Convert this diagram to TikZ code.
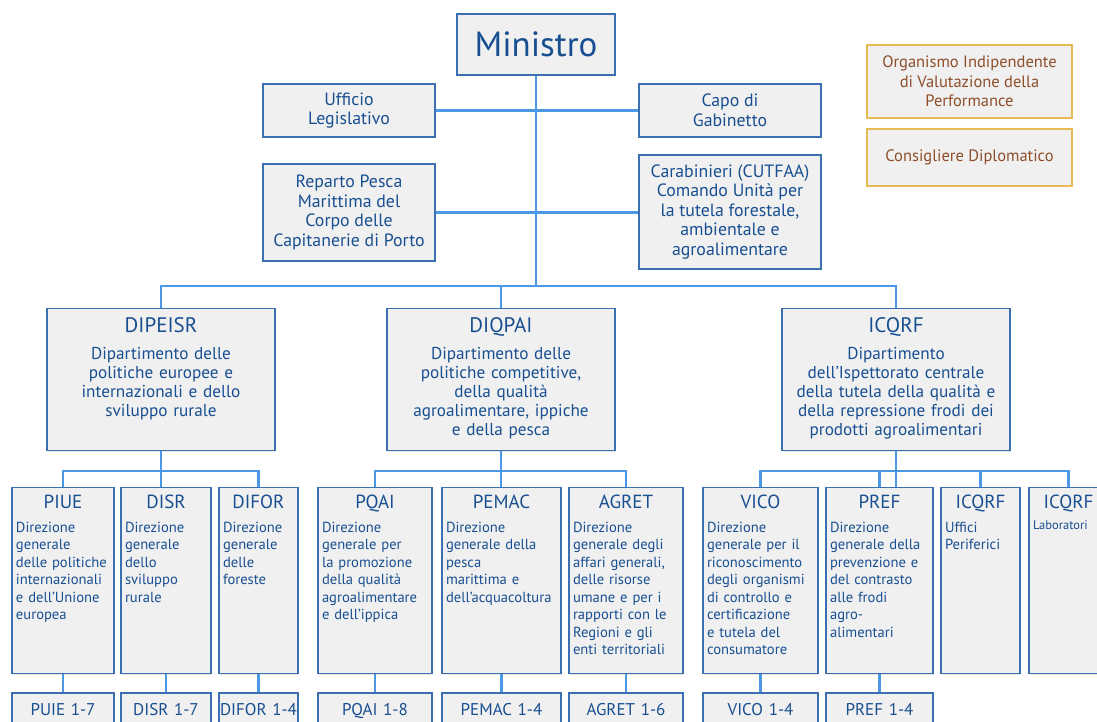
\documentclass[tikz,border=0pt]{standalone}
\usepackage{fontspec}
\setmainfont{PT Sans}
\usetikzlibrary{positioning,shadows}
\definecolor{OrgBlue}{RGB}{24,79,145}
\definecolor{FrameBlue}{RGB}{58,112,178}
\definecolor{LinkBlue}{RGB}{74,152,230}
\definecolor{BoxGray}{RGB}{240,240,240}
\definecolor{StaffGold}{RGB}{232,186,84}
\definecolor{StaffBrown}{RGB}{142,78,42}
\hyphenpenalty=10000
\newcommand{\dgtext}[2]{{\centering\fontsize{19}{23}\selectfont #1\par}\vspace{6pt}{\raggedright #2\par}}
\tikzset{
  orgbox/.style={draw=FrameBlue,fill=BoxGray,line width=1.4pt,text=OrgBlue,
    drop shadow={shadow xshift=1.2pt,shadow yshift=-1.2pt,opacity=0.18}},
  topbox/.style={orgbox,align=center,inner sep=0pt,
    font=\fontsize{17.8}{19.5}\selectfont},
  deptbox/.style={orgbox,anchor=north,text width=222pt,align=center,
    inner xsep=3pt,inner ysep=0pt,text height=24pt,text depth=118pt,
    font=\fontsize{17.2}{19}\selectfont},
  dgbox/.style={orgbox,anchor=north,inner xsep=4pt,inner ysep=0pt,
    text height=21pt,text depth=165pt,font=\fontsize{14.6}{17.5}\selectfont},
  listbox/.style={orgbox,inner xsep=5pt,inner ysep=0pt,align=center,
    text height=22pt,text depth=26pt,font=\fontsize{17}{20}\selectfont},
  staffbox/.style={draw=StaffGold,fill=BoxGray,line width=1.2pt,text=StaffBrown,
    align=center,minimum width=205pt,font=\fontsize{16.5}{19.5}\selectfont},
  link/.style={draw=LinkBlue,line width=2.5pt}
}
\begin{document}
\begin{tikzpicture}[x=1pt,y=-1pt]
\useasboundingbox (0,0) rectangle (1097,722);
\clip (0,0) rectangle (1097,722);
% vertice e uffici di diretta collaborazione
\node[orgbox,minimum width=158pt,minimum height=61pt,
  font=\fontsize{35}{38}\selectfont] (ministro) at (536,44.5) {Ministro};
\node[topbox,minimum width=172pt,minimum height=53pt] (ufficio) at (349,110.5)
  {Ufficio\\Legislativo};
\node[topbox,minimum width=182pt,minimum height=53pt] (capo) at (730,110.5)
  {Capo di\\Gabinetto};
\node[topbox,minimum width=172pt,minimum height=97pt] (reparto) at (349,212.5)
  {Reparto Pesca\\Marittima del\\Corpo delle\\Capitanerie di Porto};
\node[topbox,minimum width=182pt,minimum height=114pt] (carab) at (730,212)
  {Carabinieri (CUTFAA)\\Comando Unità per\\la tutela forestale,\\ambientale e\\agroalimentare};
\node[staffbox,minimum height=73pt] (oiv) at (969.5,81.5)
  {Organismo Indipendente\\di Valutazione della\\Performance};
\node[staffbox,minimum height=57pt] (consigliere) at (969.5,157.5)
  {Consigliere Diplomatico};
% dipartimenti
\node[deptbox] (dipeisr) at (161,308) {{\fontsize{21}{24}\selectfont DIPEISR}\\[8pt]
  Dipartimento delle\\politiche europee e\\internazionali e dello\\sviluppo rurale};
\node[deptbox] (diqpai) at (501,308) {{\fontsize{21}{24}\selectfont DIQPAI}\\[8pt]
  Dipartimento delle\\politiche competitive,\\della qualità\\agroalimentare, ippiche\\e della pesca};
\node[deptbox] (icqrf) at (896,308) {{\fontsize{21}{24}\selectfont ICQRF}\\[8pt]
  Dipartimento\\dell’Ispettorato centrale\\della tutela della qualità e\\della repressione frodi dei\\prodotti agroalimentari};
% direzioni generali
\node[dgbox,text width=94pt] (piue) at (63,487)
  {\dgtext{PIUE}{Direzione\\generale\\delle politiche\\internazionali\\e dell’Unione\\europea}};
\node[dgbox,text width=82pt] (disr) at (166,487)
  {\dgtext{DISR}{Direzione\\generale\\dello\\sviluppo\\rurale}};
\node[dgbox,text width=71pt] (difor) at (258.5,487)
  {\dgtext{DIFOR}{Direzione\\generale\\delle\\foreste}};
\node[dgbox,text width=106pt] (pqai) at (375,487)
  {\dgtext{PQAI}{Direzione\\generale per\\la promozione\\della qualità\\agroalimentare\\e dell’ippica}};
\node[dgbox,text width=111pt] (pemac) at (501.5,487)
  {\dgtext{PEMAC}{Direzione\\generale della\\pesca\\marittima e\\dell’acquacoltura}};
\node[dgbox,text width=106pt] (agret) at (626,487)
  {\dgtext{AGRET}{Direzione\\generale degli\\affari generali,\\delle risorse\\umane e per i\\rapporti con le\\Regioni e gli\\enti territoriali}};
\node[dgbox,text width=107pt] (vico) at (760.5,487)
  {\dgtext{VICO}{Direzione\\generale per il\\riconoscimento\\degli organismi\\di controllo e\\certificazione\\e tutela del\\consumatore}};
\node[dgbox,text width=99pt] (pref) at (879.5,487)
  {\dgtext{PREF}{Direzione\\generale della\\prevenzione e\\del contrasto\\alle frodi\\agro-\\alimentari}};
\node[dgbox,text width=71pt] (icqrfu) at (980.5,487)
  {\dgtext{ICQRF}{Uffici\\Periferici}};
\node[dgbox,text width=71pt] (icqrfl) at (1068.5,487)
  {\dgtext{ICQRF}{\fontsize{12.5}{15}\selectfont Laboratori}};
% uffici dirigenziali
\node[listbox,below=18pt of piue,text width=92pt] (piue-sub) {PUIE 1-7};
\node[listbox,below=18pt of disr,text width=80pt] (disr-sub) {DISR 1-7};
\node[listbox,below=18pt of difor,text width=79pt,inner xsep=0pt] (difor-sub) {\mbox{DIFOR 1-4}};
\node[listbox,below=18pt of pqai,text width=104pt] (pqai-sub) {PQAI 1-8};
\node[listbox,below=18pt of pemac,text width=109pt] (pemac-sub) {PEMAC 1-4};
\node[listbox,below=18pt of agret,text width=104pt] (agret-sub) {AGRET 1-6};
\node[listbox,below=18pt of vico,text width=105pt] (vico-sub) {VICO 1-4};
\node[listbox,below=18pt of pref,text width=97pt] (pref-sub) {PREF 1-4};
% collegamenti
\coordinate (trunk) at (536,286);
\draw[link] (ministro.south) -- (trunk);
\draw[link] (ufficio.east) -- (capo.west);
\draw[link] (reparto.east) -- (reparto.east -| carab.west);
\draw[link] (dipeisr.north) |- (trunk) -| (icqrf.north);
\draw[link] (trunk -| diqpai.north) -- (diqpai.north);
\draw[link] (piue.north) -- ++(0,-16) -| (difor.north);
\draw[link] (dipeisr.south) -- (dipeisr.south |- disr.north);
\draw[link] (pqai.north) -- ++(0,-16) -| (agret.north);
\draw[link] (diqpai.south) -- (diqpai.south |- pemac.north);
\draw[link] (vico.north) -- ++(0,-16) -| (icqrfl.north);
\draw[link] (icqrf.south) -- (icqrf.south |- vico.north);
\draw[link] (pref.north) -- ++(0,-16);
\draw[link] (icqrfu.north) -- ++(0,-16);
\foreach \dg in {piue,disr,difor,pqai,pemac,agret,vico,pref}
  \draw[link] (\dg.south) -- (\dg-sub.north);
\end{tikzpicture}
\end{document}
